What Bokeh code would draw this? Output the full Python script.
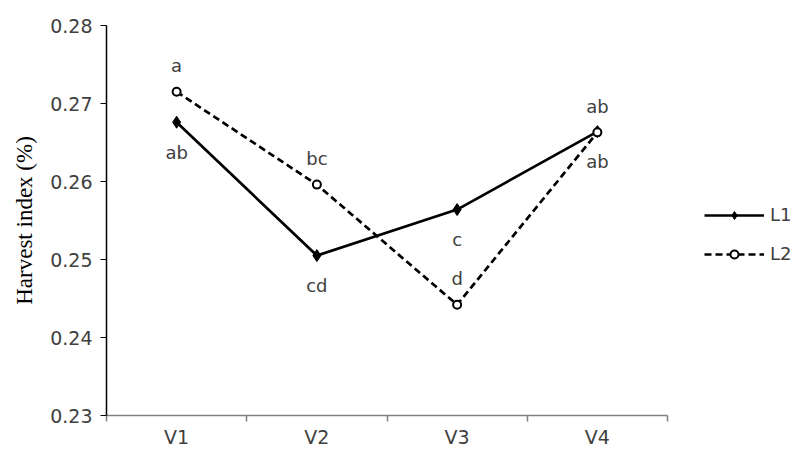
from bokeh.plotting import figure
from bokeh.models import FixedTicker, Legend, LegendItem, ColumnDataSource, Range1d
from bokeh.core.properties import value
from bokeh.embed import file_html
from bokeh.resources import INLINE

categories = ["V1", "V2", "V3", "V4"]
l1_values = [0.2676, 0.2505, 0.2564, 0.2664]
l2_values = [0.2715, 0.2596, 0.2442, 0.2663]
l1_letters = ["ab", "cd", "c", "ab"]
l2_letters = ["a", "bc", "d", "ab"]
y_ticks = [0.23, 0.24, 0.25, 0.26, 0.27, 0.28]

xs = [i + 1 for i in range(len(categories))]
n = len(categories)

W, H = 792, 450
left, top, bottom = 106, 25, 35
axis_px = 561  # pixel length of the category axis
frame_w = W - left
x_end = 0.5 + frame_w / (axis_px / n)

p = figure(width=W, height=H, output_backend="svg", toolbar_location=None,
           x_range=Range1d(0.5, x_end), y_range=Range1d(0.23, 0.28))
p.min_border_left = left
p.min_border_top = top
p.min_border_bottom = bottom
p.min_border_right = 0
p.outline_line_color = None
p.xgrid.visible = False
p.ygrid.visible = False
p.background_fill_color = "white"
p.border_fill_color = "white"

# y axis
p.yaxis.ticker = FixedTicker(ticks=y_ticks)
p.yaxis.major_label_overrides = {t: f"{t:.2f}" for t in y_ticks}
p.yaxis.axis_line_color = "black"
p.yaxis.axis_line_width = 1.5
p.yaxis.major_tick_line_color = "black"
p.yaxis.major_tick_out = 6
p.yaxis.major_tick_in = 0
p.yaxis.minor_tick_line_color = None
p.yaxis.major_label_text_font = "DejaVu Sans"
p.yaxis.major_label_text_font_size = "19px"
p.yaxis.major_label_text_color = "#404040"
p.yaxis.major_label_standoff = 8
p.yaxis.axis_label = "Harvest index (%)"
p.yaxis.axis_label_text_font = "Liberation Serif"
p.yaxis.axis_label_text_font_style = "normal"
p.yaxis.axis_label_text_font_size = "23px"
p.yaxis.axis_label_text_color = "black"
p.yaxis.axis_label_standoff = 10

# x axis
p.xaxis.bounds = (0.5, n + 0.5)
p.xaxis.ticker = FixedTicker(ticks=xs, minor_ticks=[x - 0.5 for x in xs] + [xs[-1] + 0.5])
p.xaxis.major_label_overrides = {x: c for x, c in zip(xs, categories)}
p.xaxis.axis_line_color = "#808080"
p.xaxis.axis_line_width = 1.5
p.xaxis.major_tick_out = 0
p.xaxis.major_tick_in = 0
p.xaxis.minor_tick_line_color = "#808080"
p.xaxis.minor_tick_line_width = 1.5
p.xaxis.minor_tick_out = 6
p.xaxis.minor_tick_in = 0
p.xaxis.major_label_text_font = "DejaVu Sans"
p.xaxis.major_label_text_font_size = "19px"
p.xaxis.major_label_text_color = "#404040"
p.xaxis.major_label_standoff = 4

src1 = ColumnDataSource(dict(x=xs, y=l1_values, t=l1_letters))
src2 = ColumnDataSource(dict(x=xs, y=l2_values, t=l2_letters))

r1l = p.line("x", "y", source=src1, line_color="black", line_width=2.7)
r1m = p.scatter("x", "y", source=src1, marker="diamond", size=12, fill_color="black", line_color="black")
r2l = p.line("x", "y", source=src2, line_color="black", line_width=2.7, line_dash="7 4")
r2m = p.scatter("x", "y", source=src2, marker="circle", size=8, fill_color="white", line_color="black", line_width=2)

p.text("x", "y", text="t", source=src1, text_align="center", text_baseline="middle",
       y_offset=30, text_font=value("DejaVu Sans"), text_font_size="18px", text_color="#404040")
p.text("x", "y", text="t", source=src2, text_align="center", text_baseline="middle",
       y_offset=-26, text_font=value("DejaVu Sans"), text_font_size="18px", text_color="#404040")

legend = Legend(items=[LegendItem(label="L1", renderers=[r1l, r1m]),
                       LegendItem(label="L2", renderers=[r2l, r2m])],
                location=(598, 151), orientation="vertical")
legend.border_line_color = None
legend.background_fill_alpha = 0
legend.padding = 0
legend.margin = 0
legend.spacing = 18
legend.glyph_width = 60
legend.glyph_height = 20
legend.label_height = 20
legend.label_standoff = 6
legend.label_text_font = "DejaVu Sans"
legend.label_text_font_size = "18px"
legend.label_text_color = "#404040"
p.add_layout(legend, "center")

open("out.html", "w").write(file_html(p, INLINE))
